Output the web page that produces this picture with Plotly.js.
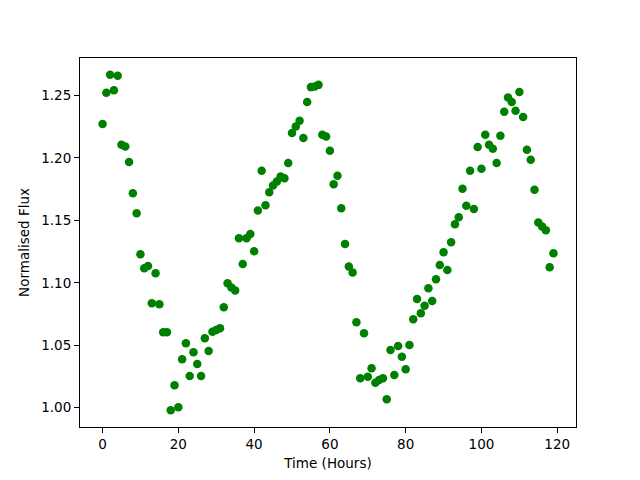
<!DOCTYPE html>
<html>
<head>
<meta charset="utf-8">
<script src="https://cdn.plot.ly/plotly-3.0.1.min.js"></script>
<style>html,body{margin:0;padding:0;background:#fff;}#chart{width:640px;height:480px;}</style>
</head>
<body>
<div id="chart"></div>
<script>
const timeHours = [0,1,2,3,4,5,6,7,8,9,10,11,12,13,14,15,16,17,18,19,20,21,22,23,24,25,26,27,28,29,30,31,32,33,34,35,36,37,38,39,40,41,42,43,44,45,46,47,48,49,50,51,52,53,54,55,56,57,58,59,60,61,62,63,64,65,66,67,68,69,70,71,72,73,74,75,76,77,78,79,80,81,82,83,84,85,86,87,88,89,90,91,92,93,94,95,96,97,98,99,100,101,102,103,104,105,106,107,108,109,110,111,112,113,114,115,116,117,118,119];
const normFlux = [1.227,1.252,1.2665,1.254,1.2657,1.2104,1.209,1.1966,1.1717,1.1557,1.1229,1.1117,1.1135,1.0837,1.1077,1.0829,1.0604,1.0604,0.998,1.018,1.0004,1.0388,1.0516,1.0255,1.0444,1.0351,1.0255,1.0556,1.0455,1.0609,1.0623,1.0637,1.0805,1.0997,1.0962,1.0938,1.1357,1.1151,1.1357,1.1391,1.1253,1.1578,1.1896,1.1621,1.1725,1.1778,1.181,1.185,1.1837,1.1958,1.2198,1.2251,1.2296,1.2158,1.2446,1.2566,1.2571,1.2584,1.2184,1.2171,1.2056,1.1789,1.1856,1.1597,1.1311,1.1130,1.1082,1.0685,1.0236,1.0596,1.0249,1.0316,1.0201,1.0223,1.0236,1.0068,1.0463,1.0263,1.0495,1.0409,1.0308,1.0503,1.0709,1.0871,1.0757,1.0817,1.0957,1.0855,1.1029,1.1143,1.1245,1.1103,1.1325,1.1469,1.1525,1.1752,1.1616,1.1896,1.159,1.2086,1.1912,1.2184,1.2104,1.2072,1.1958,1.2176,1.2368,1.2483,1.2446,1.2376,1.2526,1.2326,1.2064,1.1984,1.1744,1.1482,1.145,1.1421,1.1125,1.1237];
const xTicks = [0,20,40,60,80,100,120];
const yTicks = [1.00,1.05,1.10,1.15,1.20,1.25];

const font = {family: 'DejaVu Sans, sans-serif', size: 13.5, color: '#000'};
const axisCommon = {
  showline: true, linecolor: '#000', linewidth: 1, mirror: true,
  ticks: 'outside', ticklen: 5, tickwidth: 1, tickcolor: '#000',
  showgrid: false, zeroline: false, tickfont: font, automargin: false
};

Plotly.newPlot('chart', [{
  x: timeHours, y: normFlux, type: 'scatter', mode: 'markers',
  marker: {color: 'green', size: 8.5, line: {width: 0}}
}], {
  width: 640, height: 480,
  margin: {l: 80, r: 64, t: 58, b: 53, pad: 0},
  paper_bgcolor: '#fff', plot_bgcolor: '#fff',
  showlegend: false,
  font: font,
  xaxis: Object.assign({}, axisCommon, {
    range: [-5.95, 124.95], tickvals: xTicks, ticktext: xTicks.map(String),
    title: {text: 'Time (Hours)', font: font, standoff: 7}
  }),
  yaxis: Object.assign({}, axisCommon, {
    range: [0.9846, 1.2799], tickvals: yTicks, ticktext: yTicks.map(v => v.toFixed(2)),
    title: {text: 'Normalised Flux', font: font, standoff: 8}
  })
}, {displayModeBar: false, staticPlot: true});
</script>
</body>
</html>
